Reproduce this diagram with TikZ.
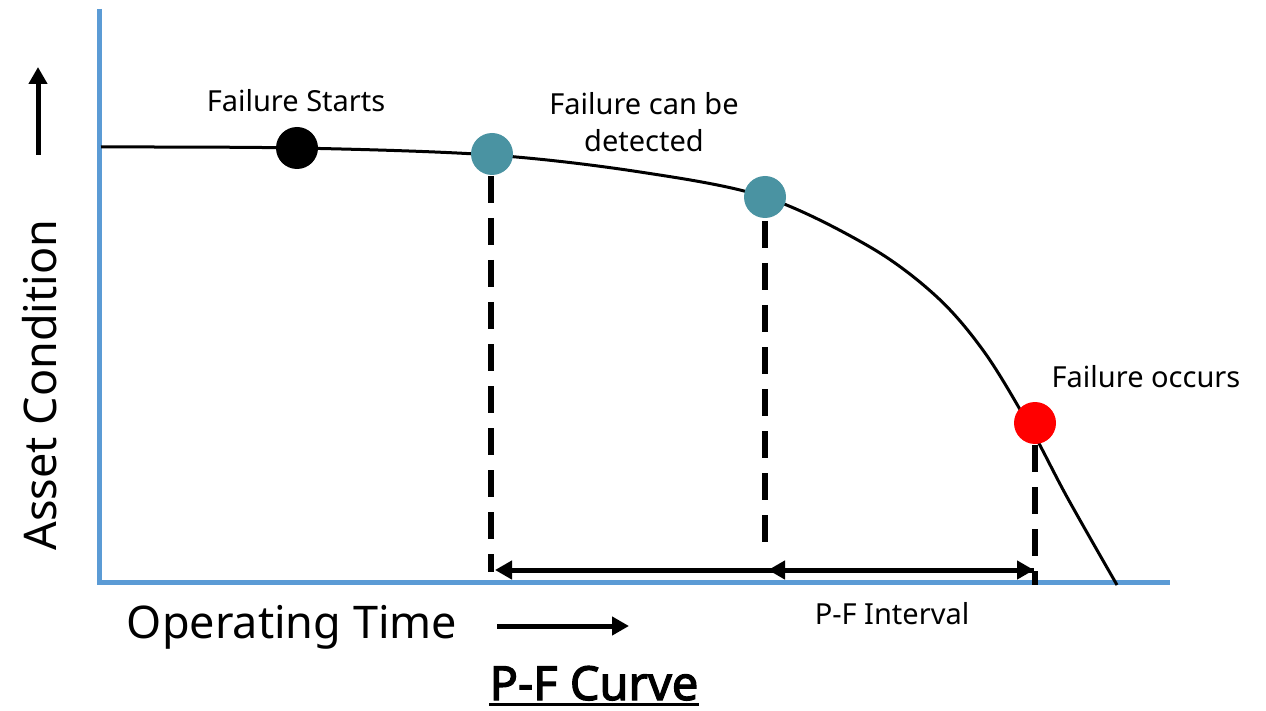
\documentclass[tikz,border=0pt]{standalone}
\usepackage{fontspec}
\setmainfont{Noto Sans}
\newfontfamily\titlefont{Noto Sans}[FakeBold=2.5]
\usetikzlibrary{arrows.meta}
\definecolor{axisblue}{HTML}{5B9BD5}
\definecolor{tealdot}{HTML}{4A93A2}
\definecolor{reddot}{HTML}{FF0000}
\begin{document}
\begin{tikzpicture}[x=1pt,y=-1pt,
 dot/.style={circle,inner sep=0pt,minimum size=42pt},
 dashv/.style={line width=5.5pt,dash pattern=on 27pt off 15pt},
 lbl/.style={font=\fontsize{29}{37}\selectfont, inner sep=0pt},
 big/.style={font=\fontsize{45}{52}\selectfont, inner sep=0pt},
 arr/.style={line width=5pt,-{Triangle[length=17pt,width=18pt]}},
 darr/.style={line width=5pt,{Triangle[length=17pt,width=18pt]}-{Triangle[length=17pt,width=18pt]}},
 ]
\useasboundingbox (0,0) rectangle (1266,711);
\fill[white] (0,0) rectangle (1266,711);
% axes
\coordinate (ytop) at (99,9);
\coordinate (ybot) at (99,584);
\coordinate (xl) at (97,582);
\coordinate (xr) at (1170,582);
\draw[axisblue, line width=5pt] (ytop) -- (ybot);
\draw[axisblue, line width=5pt] (xl) -- (xr);
% curve
\draw[line width=3pt] plot[smooth, tension=0.55] coordinates {(101,147) (297,148) (491,155) (640,172) (765,197) (870,247) (937,297) (985,353) (1030,427) (1067,497) (1117,585)};
% dashed verticals
\coordinate (d1t) at (491,176);
\coordinate (d1b) at (491,572);
\coordinate (d2t) at (765,221);
\coordinate (d2b) at (765,549);
\coordinate (d3t) at (1035,445);
\coordinate (d3b) at (1035,585);
\draw[dashv] (d1t) -- (d1b);
\draw[dashv] (d2t) -- (d2b);
\draw[dashv] (d3t) -- (d3b);
% interval arrows
\coordinate (a1) at (495,570);
\coordinate (a2) at (768,570);
\coordinate (a3) at (1034,570);
\draw[darr] (a1) -- (a3);
\draw[line width=5pt,{Triangle[length=17pt,width=18pt]}-] (a2) -- (a3);
% dots
\node[dot, fill=black] (fs) at (297,148) {};
\node[dot, fill=tealdot] (p1) at (492,154) {};
\node[dot, fill=tealdot] (p2) at (765,197) {};
\node[dot, fill=reddot] (ff) at (1035,423) {};
% axis arrows
\coordinate (ua1) at (38,155);
\coordinate (ua2) at (38,67);
\draw[arr] (ua1) -- (ua2);
\coordinate (ra1) at (497,626);
\coordinate (ra2) at (629,626);
\draw[arr] (ra1) -- (ra2);
% labels
\node[lbl] (ls) at (296,101) {Failure Starts};
\node[lbl, align=center] (ld) at (644,122) {Failure can be\\detected};
\node[lbl] (lo) at (1146,377) {Failure occurs};
\node[lbl] (lp) at (892,614) {P-F Interval};
\node[big, rotate=90] (lac) at (40,385) {Asset Condition};
\node[big] (lot) at (292,627) {Operating Time};
\node[font=\fontsize{47}{52}\selectfont\titlefont, inner sep=0pt, anchor=base] (title) at (594,700) {P-F Curve};
\draw[line width=2.5pt] ([yshift=-4.5pt]title.base west) -- ([yshift=-4.5pt]title.base east);
\end{tikzpicture}
\end{document}
